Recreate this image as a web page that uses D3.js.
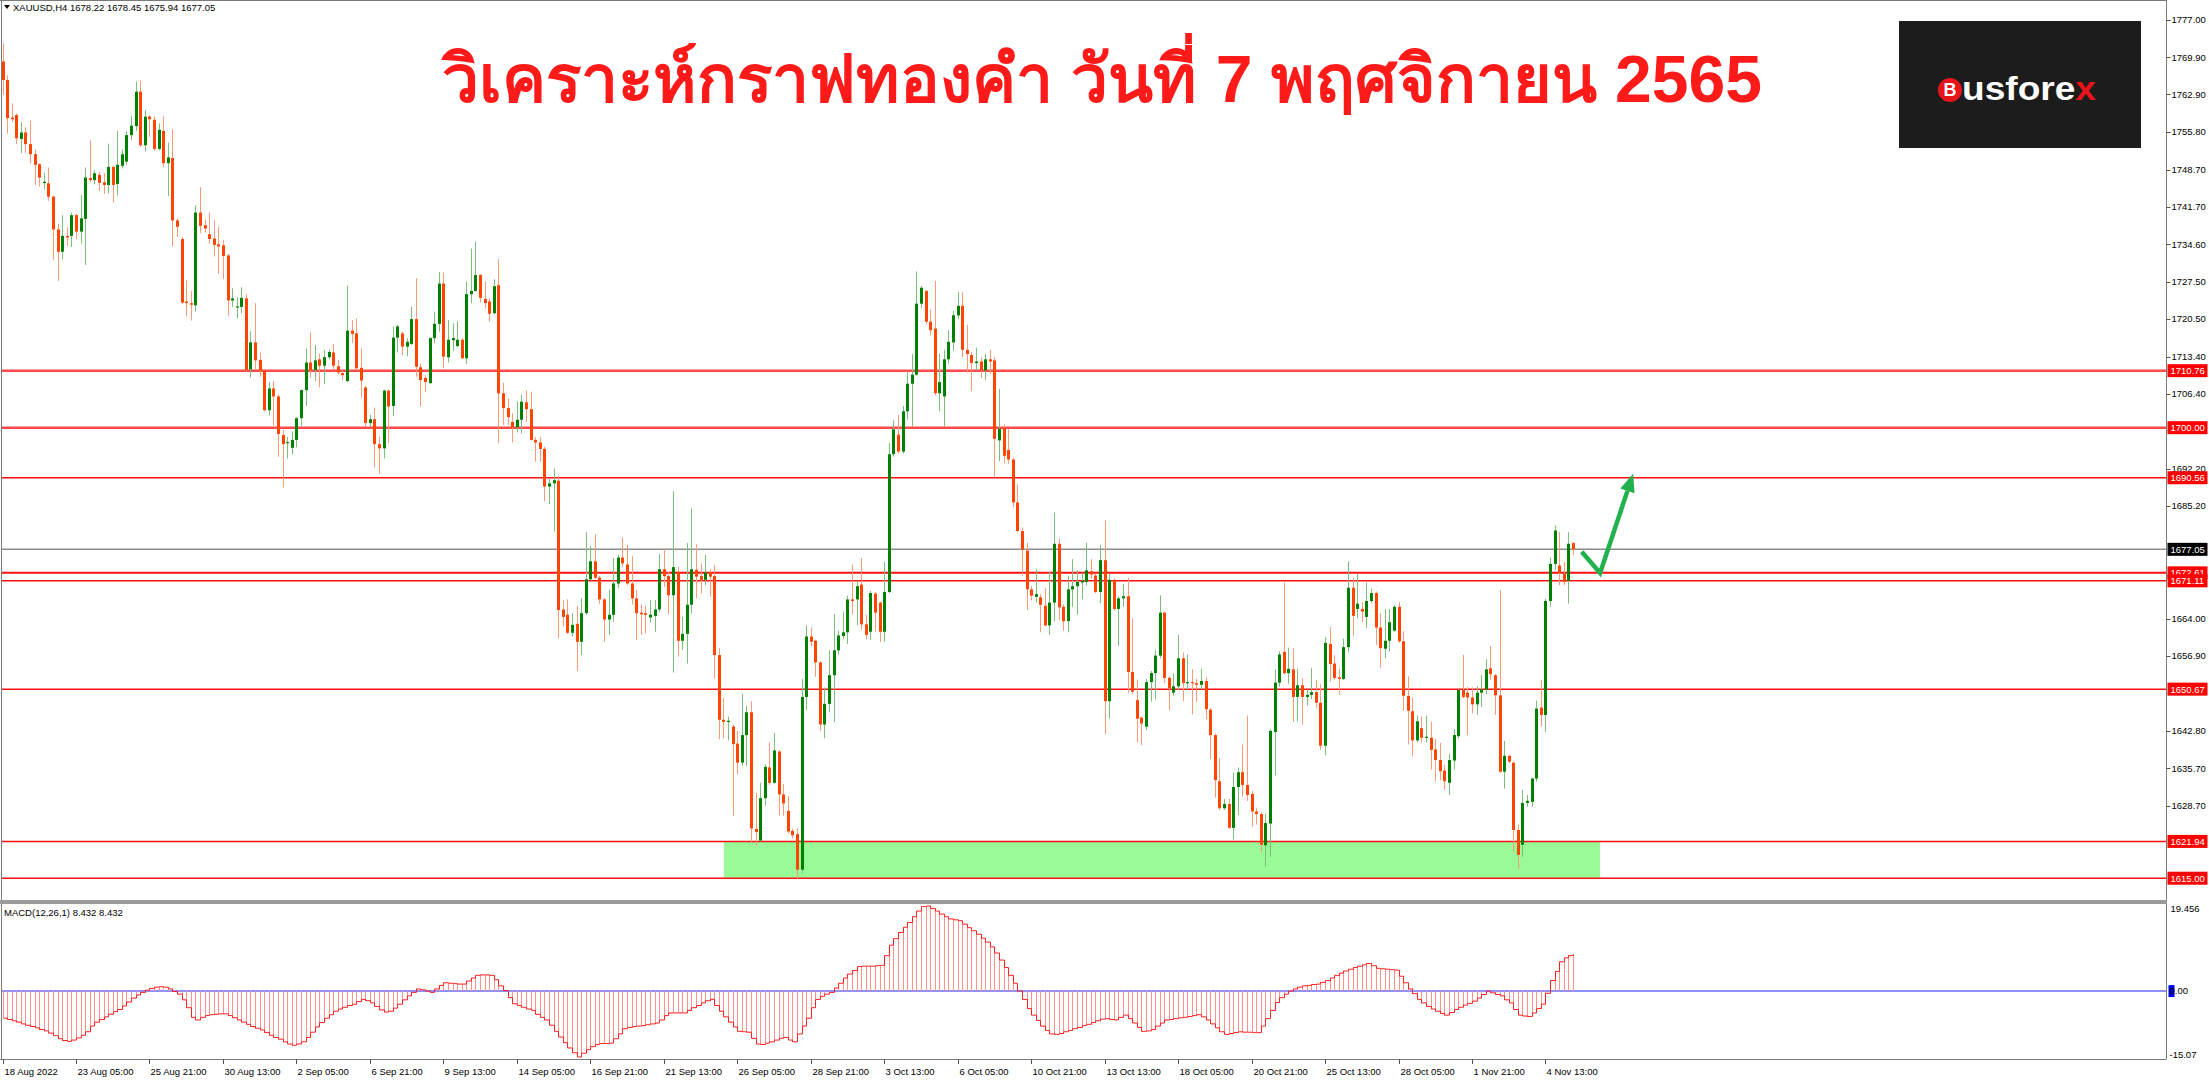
<!DOCTYPE html>
<html><head><meta charset="utf-8">
<script src="https://cdn.jsdelivr.net/npm/d3@7"></script>
<style>
html,body{margin:0;padding:0;background:#fff;overflow:hidden}
svg{display:block}
text{font-family:"Liberation Sans",Arial,sans-serif}
</style></head><body>
<svg id="c" width="2209" height="1080"></svg>
<script>
// ---------------- DATA ----------------
const opens=[1769.1,1765.6,1758.5,1759.0,1754.5,1755.7,1753.5,1751.6,1749.7,1746.2,
1746.1,1743.6,1737.4,1733.2,1736.2,1736.2,1740.1,1737.0,1739.4,1747.1,
1746.7,1747.7,1746.3,1745.8,1749.2,1746.0,1749.4,1750.2,1755.2,1756.9,
1763.4,1753.3,1758.7,1758.1,1752.6,1756.0,1749.9,1750.9,1739.1,1735.6,
1723.8,1723.5,1723.1,1740.6,1738.2,1736.5,1735.7,1734.6,1734.4,1732.5,
1724.0,1722.7,1722.8,1724.4,1711.0,1716.1,1712.8,1710.8,1703.3,1707.4,
1705.9,1698.6,1697.1,1696.2,1697.7,1701.8,1707.1,1712.3,1710.9,1712.9,
1711.7,1713.3,1714.2,1711.6,1710.3,1708.8,1718.3,1717.8,1711.3,1707.6,
1700.9,1701.6,1696.9,1696.1,1707.0,1704.1,1717.0,1717.8,1715.3,1715.8,
1720.5,1711.4,1709.4,1708.4,1716.9,1719.6,1727.2,1713.3,1716.5,1715.4,
1716.6,1713.1,1725.2,1725.8,1728.8,1724.3,1723.8,1721.6,1726.9,1706.5,
1703.7,1701.1,1700.1,1701.5,1704.8,1703.5,1697.7,1697.2,1696.0,1688.9,
1689.5,1690.0,1665.7,1664.7,1661.3,1663.0,1659.6,1665.0,1671.4,1674.8,
1671.7,1667.6,1663.8,1664.7,1670.6,1675.5,1674.2,1670.6,1667.8,1665.1,
1665.0,1664.2,1664.5,1665.7,1673.3,1672.0,1668.4,1672.8,1659.8,1661.1,
1666.6,1673.2,1672.0,1671.3,1672.7,1672.0,1657.1,1644.9,1644.5,1643.6,
1640.4,1636.8,1642.0,1646.3,1624.3,1622.1,1630.1,1635.9,1633.0,1638.9,
1630.8,1627.7,1623.9,1623.3,1616.6,1649.2,1660.6,1659.8,1655.7,1644.0,
1647.9,1653.3,1658.0,1660.7,1661.4,1667.6,1667.6,1670.4,1662.9,1661.5,
1668.7,1667.0,1661.5,1669.0,1695.0,1698.7,1695.5,1703.1,1708.3,1710.0,
1723.4,1725.8,1720.0,1718.7,1706.5,1705.9,1712.9,1716.1,1721.2,1723.0,
1714.7,1713.7,1712.2,1712.5,1710.8,1712.9,1712.7,1697.6,1700.0,1695.8,
1694.0,1685.9,1680.5,1676.8,1669.5,1668.1,1668.0,1666.4,1662.7,1667.0,
1678.1,1666.2,1663.5,1669.5,1670.1,1670.8,1670.9,1672.9,1672.1,1669.0,
1675.0,1648.4,1671.3,1665.8,1667.8,1668.2,1653.9,1648.6,1645.3,1643.6,
1652.0,1653.7,1657.0,1665.1,1652.8,1650.0,1651.2,1656.5,1651.8,1652.0,
1651.8,1651.5,1652.2,1646.8,1642.0,1633.3,1628.2,1629.0,1624.5,1632.2,
1635.0,1632.6,1630.9,1627.6,1627.1,1621.2,1625.3,1642.6,1651.9,1657.7,
1653.7,1654.4,1649.2,1651.4,1649.2,1649.6,1650.1,1648.1,1640.0,1659.2,
1655.5,1652.9,1652.6,1658.6,1669.8,1665.8,1665.8,1664.3,1667.3,1668.8,
1662.3,1658.3,1659.8,1661.7,1666.2,1659.7,1649.4,1646.5,1641.0,1643.3,
1641.5,1641.5,1639.3,1637.3,1635.3,1633.0,1637.2,1641.8,1650.5,1650.0,
1649.1,1647.8,1650.0,1650.6,1654.6,1653.3,1649.5,1635.1,1638.1,1636.8,
1624.1,1621.3,1629.2,1629.4,1633.8,1647.2,1645.8,1667.3,1674.3,1674.0,
1672.5,1671.1,1678.22];
const highs=[1772.5,1766.5,1761.2,1759.3,1757.6,1756.7,1758.0,1752.5,1749.9,1748.1,
1749.1,1743.7,1738.5,1740.1,1737.8,1740.6,1740.4,1743.9,1749.1,1754.2,
1748.6,1748.3,1748.0,1753.6,1749.4,1756.0,1752.5,1756.0,1758.8,1765.3,
1765.6,1759.9,1759.0,1758.7,1757.4,1758.8,1753.8,1756.3,1739.5,1736.0,
1727.9,1725.8,1742.0,1745.4,1739.3,1740.6,1739.2,1737.9,1735.4,1732.8,
1726.3,1724.6,1726.5,1725.2,1718.2,1723.5,1714.2,1711.1,1708.6,1708.8,
1706.2,1699.6,1698.3,1699.3,1702.0,1707.2,1714.9,1718.0,1715.6,1714.0,
1714.7,1714.7,1715.8,1712.8,1710.9,1726.8,1720.3,1720.6,1715.0,1707.9,
1702.4,1703.8,1698.3,1707.2,1707.2,1719.1,1719.4,1718.1,1716.9,1722.8,
1728.2,1712.1,1709.9,1717.1,1721.9,1729.4,1729.3,1720.3,1719.7,1720.1,
1716.9,1727.6,1733.8,1735.1,1729.0,1727.6,1724.4,1728.0,1731.8,1708.5,
1705.5,1702.7,1705.0,1706.2,1707.0,1706.8,1698.2,1698.3,1696.4,1690.3,
1692.3,1690.9,1667.5,1667.6,1665.0,1666.4,1667.8,1680.3,1677.6,1679.9,
1672.0,1667.9,1669.4,1675.4,1676.0,1679.3,1677.9,1675.8,1669.4,1666.7,
1666.4,1667.5,1667.5,1676.2,1677.2,1672.8,1688.0,1673.8,1664.3,1678.2,
1684.8,1678.0,1674.4,1676.0,1673.3,1674.1,1658.4,1649.0,1645.5,1643.9,
1642.8,1649.8,1647.5,1648.4,1631.1,1633.0,1636.5,1640.6,1642.4,1639.2,
1632.8,1630.5,1624.4,1624.4,1652.6,1662.7,1662.3,1660.0,1656.0,1651.0,
1658.0,1664.8,1661.7,1665.3,1668.3,1674.2,1671.1,1675.4,1664.7,1669.2,
1669.0,1667.2,1674.7,1697.1,1701.4,1702.4,1704.1,1710.6,1713.9,1729.5,
1726.8,1726.0,1722.3,1727.7,1714.0,1714.7,1718.4,1722.1,1725.6,1725.6,
1719.4,1714.3,1715.1,1713.3,1713.9,1714.7,1713.3,1707.3,1700.6,1699.8,
1694.3,1689.3,1681.2,1678.3,1670.1,1673.4,1668.6,1669.7,1672.9,1684.0,
1679.1,1666.6,1672.1,1675.2,1673.1,1672.5,1678.3,1675.2,1672.5,1677.9,
1682.5,1672.5,1671.5,1668.2,1670.5,1671.7,1664.0,1652.5,1645.5,1652.6,
1654.1,1658.0,1668.4,1665.3,1653.1,1653.6,1660.9,1657.6,1657.2,1654.4,
1652.6,1654.5,1652.9,1647.1,1642.3,1637.6,1629.9,1630.0,1634.9,1635.9,
1640.2,1645.7,1631.4,1628.3,1627.4,1627.2,1643.1,1654.4,1657.8,1670.8,
1658.5,1658.4,1654.5,1652.7,1650.6,1654.7,1652.4,1651.6,1660.5,1662.4,
1657.1,1654.5,1660.2,1674.8,1671.7,1672.4,1667.1,1670.8,1669.6,1669.1,
1665.0,1665.8,1665.8,1666.5,1667.1,1661.6,1653.1,1649.1,1645.7,1645.5,
1645.7,1644.5,1641.3,1640.5,1636.4,1638.5,1643.1,1650.6,1657.1,1651.1,
1651.0,1651.2,1653.3,1656.3,1658.8,1653.5,1669.3,1640.9,1638.2,1637.0,
1625.1,1631.6,1630.7,1634.0,1648.5,1652.4,1667.7,1675.5,1681.6,1680.3,
1674.7,1680.3,1678.45];
const lows=[1762.8,1755.5,1757.7,1753.5,1751.8,1751.9,1749.9,1745.8,1745.5,1745.0,
1742.8,1731.6,1727.7,1731.8,1734.3,1734.1,1735.6,1734.7,1730.7,1746.3,
1745.9,1744.7,1744.1,1744.2,1742.5,1743.8,1748.9,1749.6,1754.3,1756.0,
1753.0,1752.1,1754.9,1752.2,1752.3,1749.2,1743.7,1734.2,1736.0,1723.3,
1721.1,1720.2,1721.9,1736.7,1736.8,1734.7,1732.3,1729.0,1728.0,1721.1,
1722.8,1720.6,1721.6,1710.6,1709.5,1710.9,1709.6,1703.0,1702.3,1700.4,
1694.5,1688.7,1694.2,1694.9,1696.3,1700.3,1704.1,1709.4,1708.8,1707.6,
1708.2,1712.9,1710.9,1710.1,1709.0,1708.6,1716.0,1710.9,1705.7,1700.2,
1700.1,1692.5,1691.3,1694.2,1697.1,1702.2,1714.2,1713.7,1713.5,1715.6,
1709.6,1704.0,1706.7,1708.3,1715.9,1718.1,1711.2,1712.3,1714.5,1715.2,
1713.0,1712.0,1723.5,1725.7,1723.7,1722.5,1720.0,1721.3,1697.1,1700.5,
1700.5,1697.2,1699.1,1698.9,1701.1,1697.6,1693.6,1693.6,1686.1,1685.6,
1680.4,1660.3,1662.5,1661.1,1660.6,1654.1,1657.1,1664.7,1671.2,1671.4,
1666.7,1659.6,1660.9,1663.4,1669.7,1673.8,1670.3,1666.6,1659.9,1660.9,
1661.2,1663.2,1661.5,1665.3,1670.0,1664.8,1653.8,1656.8,1658.1,1655.5,
1665.0,1667.8,1668.7,1670.3,1668.1,1652.7,1641.2,1641.4,1641.0,1626.8,
1634.6,1636.2,1636.2,1621.7,1621.1,1621.9,1628.7,1632.6,1632.8,1626.8,
1626.8,1623.4,1622.5,1614.8,1615.9,1646.7,1658.8,1653.0,1642.8,1641.4,
1646.3,1644.5,1657.2,1660.1,1659.2,1664.8,1662.7,1661.9,1660.1,1660.0,
1661.5,1659.6,1659.6,1668.8,1694.5,1695.1,1695.1,1701.5,1700.2,1709.8,
1722.6,1719.5,1717.4,1706.1,1703.1,1700.2,1712.1,1714.5,1720.5,1713.3,
1710.4,1706.9,1710.8,1709.4,1709.0,1710.1,1690.6,1693.7,1693.2,1693.2,
1685.0,1680.3,1672.1,1665.6,1667.4,1667.0,1661.4,1662.5,1660.9,1663.5,
1663.7,1661.7,1661.4,1666.2,1664.7,1667.6,1670.3,1671.5,1668.8,1666.9,
1642.2,1645.1,1665.5,1658.8,1666.2,1650.0,1649.8,1640.6,1640.1,1643.0,
1648.3,1648.7,1656.5,1651.8,1646.7,1649.4,1650.5,1648.4,1650.5,1645.9,
1648.3,1650.6,1645.0,1637.5,1630.2,1627.9,1627.9,1624.3,1622.3,1626.9,
1630.4,1629.6,1624.7,1625.1,1619.8,1617.2,1619.0,1634.4,1651.1,1653.4,
1651.7,1644.5,1644.6,1644.0,1647.6,1648.8,1647.1,1639.2,1638.2,1652.1,
1652.4,1649.6,1652.4,1657.6,1660.7,1664.0,1663.3,1662.2,1666.9,1659.0,
1654.7,1656.5,1657.8,1661.5,1659.4,1646.6,1640.2,1638.0,1640.6,1640.6,
1640.6,1635.5,1633.3,1633.5,1631.7,1630.7,1635.5,1641.4,1648.9,1642.0,
1646.1,1645.8,1647.3,1649.7,1652.4,1645.8,1634.9,1631.9,1636.7,1620.0,
1616.7,1619.0,1628.5,1628.5,1633.2,1643.6,1642.6,1666.2,1673.2,1670.3,
1670.3,1666.8,1675.94];
const closes=[1765.6,1758.4,1758.2,1754.6,1755.7,1753.5,1751.6,1749.6,1747.2,1746.4,
1743.6,1737.4,1733.2,1736.2,1735.9,1740.1,1737.0,1739.5,1747.2,1746.7,
1748.0,1746.2,1745.8,1749.2,1745.8,1749.6,1751.6,1755.2,1757.0,1763.4,
1753.3,1758.7,1758.2,1752.6,1756.2,1749.9,1751.0,1739.1,1737.9,1723.6,
1723.5,1723.2,1740.6,1738.1,1737.6,1735.6,1734.5,1734.2,1732.4,1724.0,
1724.4,1722.9,1724.5,1710.9,1716.1,1712.7,1710.8,1703.3,1707.4,1705.9,
1698.8,1696.9,1697.3,1697.7,1701.8,1707.1,1712.3,1710.9,1712.7,1711.7,
1713.3,1714.3,1711.7,1710.4,1709.9,1718.3,1717.7,1711.2,1708.9,1700.9,
1701.6,1696.9,1696.1,1707.0,1704.0,1717.0,1719.1,1715.3,1716.2,1720.5,
1711.5,1709.0,1708.6,1716.9,1719.6,1727.2,1713.4,1716.6,1716.9,1716.6,
1713.1,1725.2,1725.8,1728.8,1724.5,1723.5,1721.5,1726.7,1706.5,1703.7,
1702.0,1700.1,1701.5,1704.9,1703.5,1697.7,1697.2,1696.0,1688.9,1689.5,
1690.1,1665.6,1664.3,1661.3,1662.8,1659.6,1665.0,1671.4,1674.8,1671.7,
1667.6,1663.8,1664.7,1670.6,1675.5,1674.4,1670.6,1667.8,1665.0,1664.8,
1664.7,1664.7,1665.7,1673.3,1672.0,1668.4,1673.7,1659.8,1661.1,1666.6,
1673.3,1671.9,1671.3,1672.7,1671.9,1657.1,1644.9,1644.5,1644.7,1640.3,
1636.8,1642.0,1646.3,1624.4,1623.7,1630.1,1636.0,1633.0,1639.1,1630.8,
1629.1,1623.8,1623.1,1616.6,1649.2,1660.6,1659.6,1655.7,1644.0,1647.9,
1653.3,1658.0,1660.8,1661.4,1667.6,1667.3,1670.1,1662.9,1660.9,1668.8,
1665.1,1661.5,1669.0,1695.0,1699.7,1695.5,1703.1,1708.3,1710.0,1723.4,
1726.4,1720.0,1718.4,1706.5,1708.6,1712.9,1716.2,1721.2,1723.0,1714.7,
1713.9,1712.2,1712.5,1710.8,1712.9,1712.5,1697.9,1699.8,1694.7,1694.0,
1685.9,1680.5,1677.0,1669.5,1668.3,1668.6,1666.6,1662.7,1667.0,1678.1,
1666.1,1663.5,1669.5,1670.1,1670.9,1671.1,1673.1,1672.3,1669.0,1675.0,
1648.4,1671.3,1665.8,1667.8,1668.2,1653.9,1650.2,1645.1,1644.2,1652.0,
1653.7,1657.0,1665.1,1652.8,1650.8,1651.2,1656.5,1651.8,1652.0,1651.8,
1651.5,1652.2,1646.9,1642.0,1633.5,1628.2,1629.0,1624.5,1632.2,1635.0,
1632.6,1630.7,1627.6,1627.1,1621.3,1625.4,1642.8,1651.9,1657.2,1653.7,
1654.5,1649.2,1651.4,1649.2,1649.6,1650.1,1648.1,1640.0,1659.4,1655.4,
1652.8,1652.6,1658.6,1669.8,1664.5,1666.8,1665.3,1667.3,1668.8,1662.3,
1658.4,1659.8,1663.3,1666.2,1659.7,1649.4,1646.6,1641.0,1644.6,1641.5,
1641.7,1639.2,1637.3,1635.2,1633.3,1637.3,1642.0,1650.5,1649.2,1649.1,
1647.8,1650.0,1650.6,1654.4,1653.5,1649.5,1635.1,1638.1,1637.0,1624.1,
1619.4,1629.2,1629.6,1633.8,1647.0,1645.8,1667.3,1674.3,1680.6,1672.6,
1670.9,1678.1,1677.05];
const macd=[-6.2,-6.5,-6.8,-7.1,-7.5,-7.8,-8.1,-8.4,-8.8,-9.1,-9.6,-10.2,-10.9,-11.3,-11.5,-11.2,-10.7,-10.1,-9.3,-8.0,-7.1,-6.5,-5.9,-5.3,-4.7,-4.2,-3.4,-2.5,-1.6,-0.9,-0.3,0.2,
0.6,0.9,1.0,0.9,0.5,-0.1,-0.7,-2.0,-3.8,-6.0,-6.6,-6.0,-5.6,-5.4,-5.3,-5.2,-5.2,-5.6,-6.1,-6.6,-7.1,-7.6,-8.1,-8.5,-8.9,-9.5,-10.1,-10.6,-11.0,-11.6,-12.1,-12.4,
-12.1,-11.6,-10.6,-9.4,-8.2,-7.2,-6.2,-5.4,-4.6,-4.1,-3.7,-3.3,-3.0,-2.4,-1.9,-2.2,-2.7,-3.5,-4.3,-4.8,-4.6,-3.9,-3.0,-2.0,-1.1,-0.3,0.5,0.3,0.0,-0.3,0.5,1.3,1.9,
1.8,1.7,1.6,1.6,
2.3,3.0,3.6,3.7,3.7,3.6,2.6,1.2,0.1,-1.5,-2.9,-3.3,-3.7,-4.1,-4.4,-5.3,-6.0,-6.6,-7.8,-9.2,-10.5,-11.8,-13.0,-14.1,-15.07,-14.2,-13.4,-12.7,-12.2,-12.0,-12.0,-11.9,-10.9,-9.8,-8.6,-8.3,-8.1,-8.0,-7.9,-7.7,-7.5,-7.3,-6.6,-5.6,-5.0,-5.0,-5.0,-5.0,-4.4,-3.8,-3.3,-2.7,-2.2,-1.9,-3.3,-4.6,-5.9,-7.1,-8.2,-9.2,-9.3,-9.4,-10.8,-12.1,-12.2,-11.9,-11.6,-11.2,-10.8,-10.6,-11.2,-11.6,-9.8,-8.0,-6.2,-3.8,-1.9,-1.2,-0.7,-0.3,0.7,1.8,3.0,3.9,4.7,5.6,5.7,5.7,5.7,5.8,5.9,8.1,10.5,12.0,13.4,14.6,15.7,17.0,18.3,19.3,19.456,18.9,18.3,17.6,17.0,16.5,16.3,16.1,15.3,14.5,13.8,13.0,12.1,11.2,10.1,8.7,7.1,5.4,3.6,1.8,0.0,-1.9,-4.0,-5.5,-6.7,-8.0,-9.0,-9.8,-9.9,-9.7,-9.3,-9.0,-8.6,-8.3,-7.9,-7.6,-7.2,-6.8,-6.4,-6.3,-6.5,-6.6,-6.0,-5.5,-6.3,-7.3,-8.3,-9.2,-9.1,-8.8,-8.0,-7.3,-6.6,-6.5,-6.3,
-6.1,-6.0,-5.8,
-5.6,-5.4,-5.9,-6.6,-7.5,-8.4,-9.3,-9.9,-9.7,-9.5,-9.3,-9.4,-9.4,-9.5,-9.5,-8.0,-6.3,-4.4,-2.6,-1.5,-0.7,0.0,0.5,0.9,1.2,1.3,1.5,1.6,2.0,2.4,3.0,3.6,4.1,4.6,5.0,5.4,5.7,6.0,6.3,5.8,5.2,5.1,5.0,4.9,4.8,3.4,1.9,0.5,-0.6,-1.9,-2.7,-3.5,-4.1,-4.6,-5.1,-5.5,-4.9,-4.2,-3.7,-3.2,-2.8,-2.3,-1.6,-0.8,0.0,-0.4,-0.8,-1.1,-2.0,-2.7,-4.2,-5.5,-5.7,-5.8,-5.0,-4.0,-3.0,-0.5,2.4,4.5,6.7,7.6,8.1,8.432];
const dateLabels=["18 Aug 2022","23 Aug 05:00","25 Aug 21:00","30 Aug 13:00","2 Sep 05:00","6 Sep 21:00","9 Sep 13:00","14 Sep 05:00","16 Sep 21:00","21 Sep 13:00","26 Sep 05:00","28 Sep 21:00","3 Oct 13:00","6 Oct 05:00","10 Oct 21:00","13 Oct 13:00","18 Oct 05:00","20 Oct 21:00","25 Oct 13:00","28 Oct 05:00","1 Nov 21:00","4 Nov 13:00"];
const dateStep=16;
// tick labels that the reference shows (those fully under a level box are left out)
const priceTicks=["1777.00","1769.90","1762.90","1755.80","1748.70","1741.70","1734.60","1727.50","1720.50","1713.40","1706.40","1692.20","1685.20","1664.00","1656.90","1642.80","1635.70","1628.70"];
const levels=[1710.76,1700.00,1690.56,1672.61,1671.11,1650.67,1621.94,1615.00];
const levelWidth=[2.5,2.5,1.5,2,1.5,1.5,1.5,1.5];
const bid=1677.05;
const zoneBars=[157.1,347.9];
const zonePrices=[1615.00,1621.94];
const arrowBars=[343.9,347.9,355.1];
const arrowPrices=[1676.6,1672.6,1691.3];
const macdTicks=[19.456,0,-15.07];
const header="XAUUSD,H4  1678.22 1678.45 1675.94 1677.05";
const macdHeader="MACD(12,26,1) 8.432 8.432";
const title="วิเคราะห์กราฟทองคำ วันที่ 7 พฤศจิกายน 2565";

// ---------------- CHART ----------------
const svg=d3.select('#c');
const AX=2166.5, MAIN_B=900, SUB_T=904, BOT=1059;
const x=d3.scaleLinear().domain([0,342]).range([2.5,1573]);
const y=d3.scaleLinear().domain([1777,1615]).range([19.6,878.2]);
const ym=d3.scaleLinear().domain([-15.07,19.456]).range([1057,906]);

const defs=svg.append('defs');
defs.append('clipPath').attr('id','mc').append('rect').attr('x',2).attr('y',1).attr('width',AX-2).attr('height',MAIN_B-1);
defs.append('clipPath').attr('id','sc').append('rect').attr('x',2).attr('y',SUB_T).attr('width',AX-2).attr('height',BOT-SUB_T);

const main=svg.append('g').attr('clip-path','url(#mc)');

main.append('rect')
  .attr('x',x(zoneBars[0])).attr('width',x(zoneBars[1])-x(zoneBars[0]))
  .attr('y',y(zonePrices[1])).attr('height',y(zonePrices[0])-y(zonePrices[1]))
  .attr('fill','#98fb98');

main.append('line').attr('x1',0).attr('x2',AX).attr('y1',y(bid)).attr('y2',y(bid))
  .attr('stroke','#8c8c8c').attr('stroke-width',1.5);

main.selectAll('line.lv').data(levels).join('line').attr('class','lv')
  .attr('x1',0).attr('x2',AX).attr('y1',d=>y(d)).attr('y2',d=>y(d))
  .attr('stroke',(d,i)=>levelWidth[i]>2?'#ff4a4a':'#ff1010')
  .attr('stroke-width',(d,i)=>levelWidth[i]);

const cd=opens.map((o,i)=>({i,o,h:highs[i],l:lows[i],c:closes[i]}));
const cg=main.append('g');
cg.selectAll('line.w').data(cd).join('line').attr('class','w')
  .attr('x1',d=>Math.round(x(d.i))+0.5).attr('x2',d=>Math.round(x(d.i))+0.5)
  .attr('y1',d=>y(d.h)).attr('y2',d=>y(d.l))
  .attr('stroke',d=>d.c>=d.o?'#7cbf7c':'#ff9a78').attr('stroke-width',1);
cg.selectAll('rect.b').data(cd).join('rect').attr('class','b')
  .attr('x',d=>Math.round(x(d.i))-1).attr('width',3)
  .attr('y',d=>y(Math.max(d.o,d.c)))
  .attr('height',d=>Math.max(1.2,Math.abs(y(d.o)-y(d.c))))
  .attr('fill',d=>d.c>=d.o?'#008000':'#ff4500');

const ap=arrowBars.map((b,i)=>[x(b),y(arrowPrices[i])]);
const tip=ap[2], prev=ap[1];
const ddx=tip[0]-prev[0], ddy=tip[1]-prev[1], L=Math.hypot(ddx,ddy), ux=ddx/L, uy=ddy/L;
const hl=18, hw=7.5;
const base=[tip[0]-ux*hl, tip[1]-uy*hl];
main.append('polyline').attr('points',[ap[0],ap[1],base].map(p=>p.join(',')).join(' '))
  .attr('fill','none').attr('stroke','#22b14c').attr('stroke-width',4.5).attr('stroke-linejoin','miter');
main.append('polygon').attr('points',[tip,[base[0]-uy*hw,base[1]+ux*hw],[base[0]+uy*hw,base[1]-ux*hw]].map(p=>p.join(',')).join(' '))
  .attr('fill','#22b14c');

const sub=svg.append('g').attr('clip-path','url(#sc)');
sub.append('line').attr('x1',0).attr('x2',AX).attr('y1',ym(0)).attr('y2',ym(0)).attr('stroke','#8f8fff').attr('stroke-width',2);
sub.selectAll('line.h').data(macd).join('line').attr('class','h')
  .attr('x1',(d,i)=>Math.round(x(i))+0.5).attr('x2',(d,i)=>Math.round(x(i))+0.5)
  .attr('y1',ym(0)).attr('y2',d=>ym(d)).attr('stroke','#ff9090').attr('stroke-width',1);
sub.append('path').datum(macd)
  .attr('d',d3.line().x((d,i)=>Math.round(x(i))+0.5).y(d=>ym(d)).curve(d3.curveStepAfter))
  .attr('fill','none').attr('stroke','#ff2020').attr('stroke-width',1);

const fr=svg.append('g');
fr.append('line').attr('x1',1.5).attr('x2',1.5).attr('y1',0).attr('y2',BOT).attr('stroke','#7a7a7a');
fr.append('line').attr('x1',AX).attr('x2',AX).attr('y1',0).attr('y2',BOT).attr('stroke','#7a7a7a');
fr.append('line').attr('x1',0).attr('x2',AX).attr('y1',0.5).attr('y2',0.5).attr('stroke','#7a7a7a');
fr.append('rect').attr('x',0).attr('y',MAIN_B).attr('width',AX+0.5).attr('height',SUB_T-MAIN_B).attr('fill','#9a9a9a');
fr.append('line').attr('x1',0).attr('x2',AX).attr('y1',BOT+0.5).attr('y2',BOT+0.5).attr('stroke','#7a7a7a');

const ax=svg.append('g');
priceTicks.forEach(t=>{
  const yy=y(+t);
  ax.append('line').attr('x1',AX).attr('x2',AX+4).attr('y1',Math.round(yy)+0.5).attr('y2',Math.round(yy)+0.5).attr('stroke','#555');
  ax.append('text').attr('x',AX+5).attr('y',yy).attr('dy','0.35em').attr('font-size',9.5).attr('fill','#000').text(t);
});
levels.forEach(v=>{
  const yy=y(v);
  ax.append('rect').attr('x',AX+1).attr('y',yy-6.5).attr('width',40).attr('height',13).attr('fill','#ff0000');
  ax.append('text').attr('x',AX+4).attr('y',yy).attr('dy','0.36em').attr('font-size',9.5).attr('fill','#fff').text(v.toFixed(2));
});
ax.append('rect').attr('x',AX+1).attr('y',y(bid)-6.5).attr('width',40).attr('height',13).attr('fill','#000');
ax.append('text').attr('x',AX+4).attr('y',y(bid)).attr('dy','0.36em').attr('font-size',9.5).attr('fill','#fff').text(bid.toFixed(2));

ax.append('text').attr('x',AX+4).attr('y',ym(19.456)+3).attr('dy','0.35em').attr('font-size',9.5).text(macdTicks[0].toFixed(3));
ax.append('rect').attr('x',AX+2).attr('y',ym(0)-6).attr('width',6).attr('height',12).attr('fill','#0000ee');
ax.append('text').attr('x',AX+3).attr('y',ym(0)).attr('dy','0.35em').attr('font-size',9.5).text(macdTicks[1].toFixed(2));
ax.append('text').attr('x',AX+3).attr('y',ym(-15.07)-2).attr('dy','0.35em').attr('font-size',9.5).text(macdTicks[2].toFixed(2));

dateLabels.forEach((lab,k)=>{
  const xx=Math.round(x(k*dateStep))+0.5;
  ax.append('line').attr('x1',xx).attr('x2',xx).attr('y1',BOT).attr('y2',BOT+5).attr('stroke','#555');
  ax.append('text').attr('x',xx+1).attr('y',1072).attr('dy','0.35em').attr('font-size',9.5).text(lab);
});

svg.append('path').attr('d','M4,5 L10,5 L7,9 Z').attr('fill','#000');
svg.append('text').attr('x',13).attr('y',8).attr('dy','0.35em').attr('font-size',9.5).text(header);
svg.append('text').attr('x',4).attr('y',913).attr('dy','0.35em').attr('font-size',9.5).text(macdHeader);

svg.append('text').attr('x',1102).attr('y',102).attr('text-anchor','middle')
  .attr('font-family','"Noto Sans Thai","Noto Sans Thai UI","Noto Sans","Loma","Garuda",sans-serif')
  .attr('font-weight','bold').attr('font-size',66).attr('fill','#ff1a1a').text(title);

// logo
const lg=svg.append('g');
lg.append('rect').attr('x',1899).attr('y',21).attr('width',242).attr('height',127).attr('fill','#1c1c1c');
lg.append('circle').attr('cx',1950).attr('cy',90).attr('r',12).attr('fill','#e8141b');
lg.append('text').attr('x',1950).attr('y',90).attr('dy','0.36em').attr('text-anchor','middle').attr('font-size',18).attr('font-weight','bold').attr('fill','#fff').text('B');
const lt=lg.append('text').attr('x',1962).attr('y',88).attr('dy','0.36em').attr('font-size',34).attr('font-weight','bold')
  .attr('textLength',134).attr('lengthAdjust','spacingAndGlyphs');
lt.append('tspan').attr('fill','#fff').text('usfore');
lt.append('tspan').attr('fill','#e8141b').text('x');
</script>
</body></html>
